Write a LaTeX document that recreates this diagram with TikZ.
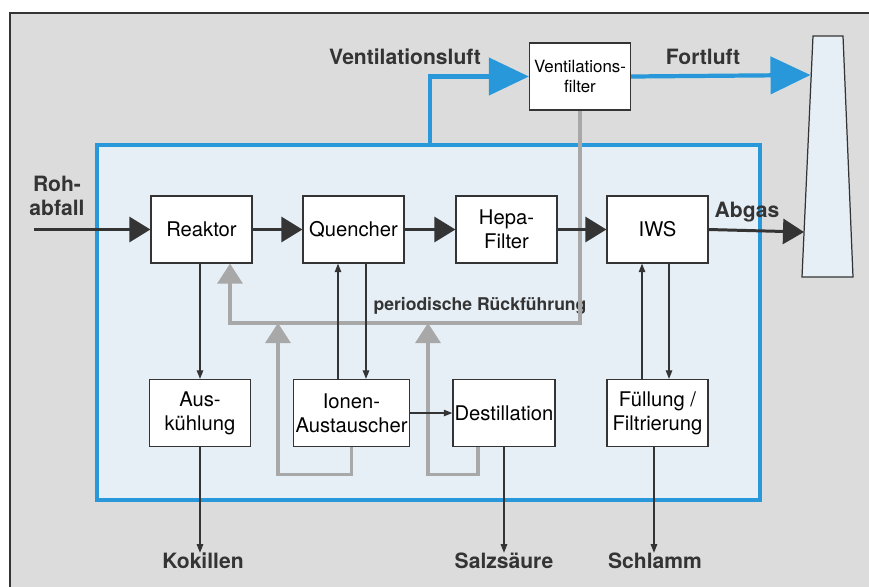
\documentclass[tikz,border=0pt]{standalone}
\usepackage{fontspec}
\setmainfont{TeX Gyre Heros}
\usepackage{tikz}
\usetikzlibrary{arrows.meta, calc}

\definecolor{hintergrund}{RGB}{220,220,220}
\definecolor{luftblau}{RGB}{40,152,218}
\definecolor{anlagefill}{RGB}{230,239,246}
\definecolor{dunkel}{RGB}{52,52,52}
\definecolor{rueck}{RGB}{168,168,168}

\tikzset{
    kasten/.style={draw=dunkel, fill=white, line width=0.7pt, minimum width=2.02cm,
        minimum height=1.34cm, align=center, inner sep=1pt,
        font=\fontsize{11.5}{13.5}\selectfont},
    etikett/.style={font=\fontsize{12}{14}\selectfont\bfseries, text=dunkel, align=center, inner sep=0pt},
    hauptfluss/.style={draw=dunkel, line width=1.7pt, -{Triangle[length=0.42cm, width=0.5cm]}},
    luftfluss/.style={draw=luftblau, line width=2.4pt, -{Triangle[length=0.8cm, width=0.74cm]}},
    nebenfluss/.style={draw=dunkel, line width=0.6pt, -{Triangle[length=0.17cm, width=0.13cm]}},
    rueckfluss/.style={draw=rueck, line width=1.8pt, -{Triangle[length=0.4cm, width=0.5cm]}}
}

\begin{document}
\begin{tikzpicture}[x=0.02cm, y=-0.02cm]
        \useasboundingbox (0,0) rectangle (869,586);
        % Hintergrund und Anlage
        \draw[fill=hintergrund, draw=dunkel, line width=0.6pt] (10,13) rectangle (875,592);
        \draw[fill=anlagefill, draw=luftblau, line width=1.8pt] (97,145) rectangle (760,500);
        % Kamin
        \draw[fill=anlagefill, draw=dunkel, line width=0.7pt] (813,36) -- (843,36) -- (853,277) -- (802,277) -- cycle;
        \coordinate (kaminoben) at (810.5,75);
        \coordinate (kaminunten) at (804,232);

        \coordinate (anlageoben) at (430,145);
        \coordinate (rohein) at (34,229.5);
        \coordinate (rueckecke) at (230,323);

        \node[kasten] (reaktor) at (201.5,229.5) {Reaktor};
        \node[kasten] (quencher) at (353.5,229.5) {Quencher};
        \node[kasten] (hepa) at (506.5,229.5) {Hepa-\\Filter};
        \node[kasten] (iws) at (657.5,229.5) {IWS};
        \node[kasten] (kuehl) at (200,413) {Aus-\\kühlung};
        \node[kasten] (ionen) at (351.5,413) {Ionen-\\Austauscher};
        \node[kasten] (destill) at (504,413) {Destillation};
        \node[kasten] (fuell) at (657.5,413) {Füllung /\\Filtrierung};

        \node[etikett] (ventluft) at (405,57) {Ventilationsluft};
        \node[etikett] (fortluft) at (703,57) {Fortluft};
        \node[etikett] (abgas) at (747,212) {Abgas};
        \node[etikett] (roh) at (57,196) {Roh-\\abfall};
        \node[etikett, font=\fontsize{10}{12}\selectfont\bfseries] (periodisch) at (480,306) {periodische Rückführung};
        \node[etikett] (kokillen) at (203,561) {Kokillen};
        \node[etikett] (salz) at (504,561) {Salzsäure};
        \node[etikett] (schlamm) at (655,561) {Schlamm};

        % periodische Rueckfuehrung
        \coordinate (filterfuss) at (580,110);
        \draw[rueckfluss] (filterfuss) |- (rueckecke) -- (rueckecke |- reaktor.south);
        \draw[rueckfluss] (ionen.south) -- ++(0,27) -| (278,323);
        \draw[rueckfluss] ($(destill.south)+(-26,0)$) -- ++(0,27) -| (428,323);
        \node[kasten, font=\fontsize{9.6}{11}\selectfont] (vfilter) at (580,76.5) {Ventilations-\\filter};

        % Luft
        \draw[luftfluss] (anlageoben) |- (vfilter.west);
        \draw[luftfluss] (vfilter.east) -- (kaminoben);

        % Hauptstrom
        \draw[hauptfluss] (rohein) -- (reaktor.west);
        \draw[hauptfluss] (reaktor) -- (quencher);
        \draw[hauptfluss] (quencher) -- (hepa);
        \draw[hauptfluss] (hepa) -- (iws);
        \draw[hauptfluss] (iws.east) -- (kaminunten);

        % Nebenstroeme
        \draw[nebenfluss] (reaktor.south -| kuehl) -- (kuehl.north);
        \draw[nebenfluss] (kuehl.south) -- (kuehl.south |- kokillen.north);
        \draw[nebenfluss] (ionen.north -| 338,0) -- (quencher.south -| 338,0);
        \draw[nebenfluss] (quencher.south -| 366,0) -- (ionen.north -| 366,0);
        \draw[nebenfluss] (ionen.east) -- (ionen.east -| destill.west);
        \draw[nebenfluss] (destill.south) -- (destill.south |- salz.north);
        \draw[nebenfluss] (fuell.north -| 642,0) -- (iws.south -| 642,0);
        \draw[nebenfluss] (iws.south -| 669,0) -- (fuell.north -| 669,0);
        \draw[nebenfluss] (fuell.south -| 654,0) -- (schlamm.north -| 654,0);
    \end{tikzpicture}
\end{document}
